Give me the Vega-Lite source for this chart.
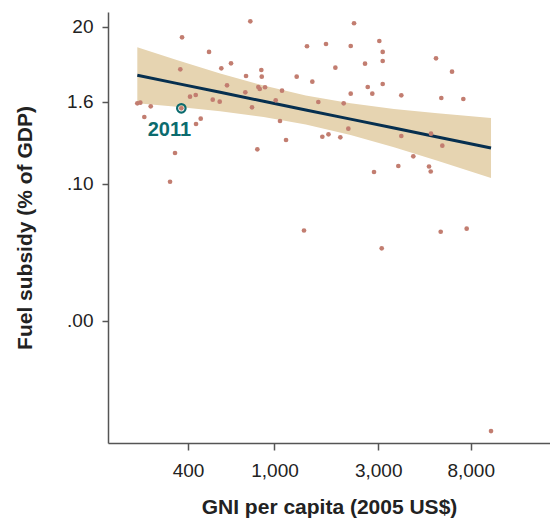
{
  "$schema": "https://vega.github.io/schema/vega-lite/v6.json",
  "width": 442,
  "height": 431,
  "autosize": {"type": "none"},
  "padding": {"left": 108, "top": 12, "right": 0, "bottom": 80},
  "background": "white",
  "config": {"view": {"stroke": null}, "font": "Liberation Sans"},
  "datasets": {
    "points": [
      {"gni": 233.7, "sub": 1.511}, {"gni": 241.3, "sub": 1.543}, {"gni": 269.4, "sub": 1.367},
      {"gni": 251.7, "sub": 0.953}, {"gni": 375.4, "sub": 13.99}, {"gni": 368.6, "sub": 4.756},
      {"gni": 372.6, "sub": 1.277}, {"gni": 408.6, "sub": 1.889}, {"gni": 434, "sub": 2.0},
      {"gni": 435.4, "sub": 0.752}, {"gni": 457.6, "sub": 0.9}, {"gni": 499.7, "sub": 8.53},
      {"gni": 519.7, "sub": 1.707}, {"gni": 559.6, "sub": 1.595}, {"gni": 569.2, "sub": 4.92},
      {"gni": 604.6, "sub": 2.774}, {"gni": 630.8, "sub": 5.82}, {"gni": 773.9, "sub": 23.99},
      {"gni": 739.6, "sub": 3.796}, {"gni": 734.1, "sub": 2.19}, {"gni": 787.9, "sub": 1.321},
      {"gni": 869.8, "sub": 4.646}, {"gni": 873.6, "sub": 3.706}, {"gni": 842.6, "sub": 2.62},
      {"gni": 855.2, "sub": 2.449}, {"gni": 904.7, "sub": 2.594}, {"gni": 1012.8, "sub": 1.673},
      {"gni": 1083, "sub": 2.312}, {"gni": 1060, "sub": 0.832}, {"gni": 1265, "sub": 3.706},
      {"gni": 1411, "sub": 10.33}, {"gni": 1493, "sub": 3.132}, {"gni": 1591, "sub": 1.579},
      {"gni": 1726, "sub": 11.16}, {"gni": 1906, "sub": 5.02}, {"gni": 2082, "sub": 1.511},
      {"gni": 2187, "sub": 0.642}, {"gni": 2243, "sub": 10.43}, {"gni": 2243, "sub": 2.09},
      {"gni": 2323, "sub": 22.43}, {"gni": 2610, "sub": 5.75}, {"gni": 2686, "sub": 2.62},
      {"gni": 2819, "sub": 2.09}, {"gni": 3037, "sub": 12.35}, {"gni": 3148, "sub": 8.53},
      {"gni": 3148, "sub": 6.29}, {"gni": 3148, "sub": 2.898}, {"gni": 3834, "sub": 1.98},
      {"gni": 5537, "sub": 6.89}, {"gni": 6562, "sub": 4.39}, {"gni": 5857, "sub": 1.807},
      {"gni": 7397, "sub": 1.747}, {"gni": 1130, "sub": 0.439}, {"gni": 1660, "sub": 0.49},
      {"gni": 1772, "sub": 0.532}, {"gni": 2009, "sub": 0.48}, {"gni": 3834, "sub": 0.502},
      {"gni": 5252, "sub": 0.543}, {"gni": 5920, "sub": 0.362}, {"gni": 4354, "sub": 0.253},
      {"gni": 3714, "sub": 0.1826}, {"gni": 5142, "sub": 0.1796}, {"gni": 5236, "sub": 0.1517},
      {"gni": 2871, "sub": 0.1492}, {"gni": 1367, "sub": 0.02076}, {"gni": 3115, "sub": 0.01138},
      {"gni": 5820, "sub": 0.01993}, {"gni": 7664, "sub": 0.02207}, {"gni": 9920, "sub": 0.00002407},
      {"gni": 348.5, "sub": 0.283}, {"gni": 330.6, "sub": 0.1075}, {"gni": 833.8, "sub": 0.3206}
    ],
    "band": [
      {"gni": 233.7, "fit": 3.884, "lo": 1.512, "hi": 9.98},
      {"gni": 354.8, "fit": 2.957, "lo": 1.3445, "hi": 6.504},
      {"gni": 562.3, "fit": 2.188, "lo": 1.156, "hi": 4.14},
      {"gni": 891.3, "fit": 1.619, "lo": 0.954, "hi": 2.747},
      {"gni": 1393, "fit": 1.209, "lo": 0.742, "hi": 1.97},
      {"gni": 2239, "fit": 0.8865, "lo": 0.52, "hi": 1.512},
      {"gni": 3548, "fit": 0.656, "lo": 0.3439, "hi": 1.252},
      {"gni": 5623, "fit": 0.4856, "lo": 0.2186, "hi": 1.0784},
      {"gni": 9920, "fit": 0.335, "lo": 0.1216, "hi": 0.9226}
    ],
    "highlight": [
      {"gni": 372.6, "sub": 1.277, "label": "2011"}
    ]
  },
  "encoding": {
    "x": {
      "field": "gni", "type": "quantitative",
      "scale": {"type": "log", "domain": [171.3, 18533], "nice": false, "zero": false},
      "axis": {
        "values": [400, 1000, 3000, 8000], "format": ",d", "grid": false,
        "title": "GNI per capita (2005 US$)",
        "domainColor": "#555555", "domainWidth": 1.5, "tickColor": "#555555", "tickWidth": 1.5, "tickSize": 7,
        "labelFont": "Liberation Sans", "labelFontSize": 19, "labelColor": "#222222", "labelPadding": 11,
        "titleFont": "Liberation Sans", "titleFontSize": 21, "titleFontWeight": "bold", "titleColor": "#222222", "titlePadding": 16
      }
    }
  },
  "layer": [
    {
      "data": {"name": "band"},
      "mark": {"type": "area", "color": "#e6d4b1", "opacity": 1},
      "encoding": {
        "y": {
          "field": "lo", "type": "quantitative",
          "scale": {"type": "log", "domain": [0.0000161, 32.8], "nice": false, "zero": false},
          "axis": {
            "values": [20, 1.6, 0.1, 0.001], "grid": false,
            "labelExpr": "datum.value == 20 ? '20' : datum.value == 1.6 ? '1.6' : datum.value == 0.1 ? '.10' : '.00'",
            "title": "Fuel subsidy (% of GDP)",
            "domainColor": "#555555", "domainWidth": 1.5, "tickColor": "#555555", "tickWidth": 1.5, "tickSize": 6,
            "labelFont": "Liberation Sans", "labelFontSize": 19, "labelColor": "#222222", "labelPadding": 9,
            "titleFont": "Liberation Sans", "titleFontSize": 21, "titleFontWeight": "bold", "titleColor": "#222222",
            "titlePadding": 31
          }
        },
        "y2": {"field": "hi"}
      }
    },
    {
      "data": {"name": "band"},
      "mark": {"type": "line", "color": "#062f4f", "strokeWidth": 3},
      "encoding": {"y": {"field": "fit", "type": "quantitative"}}
    },
    {
      "data": {"name": "points"},
      "mark": {"type": "circle", "color": "#c27d70", "size": 22, "opacity": 1},
      "encoding": {"y": {"field": "sub", "type": "quantitative"}}
    },
    {
      "data": {"name": "highlight"},
      "mark": {"type": "point", "shape": "circle", "filled": false, "color": "#0b6b6e", "size": 72, "strokeWidth": 2.2, "opacity": 1},
      "encoding": {"y": {"field": "sub", "type": "quantitative"}}
    },
    {
      "data": {"name": "highlight"},
      "mark": {"type": "text", "color": "#0b6b6e", "font": "Liberation Sans", "fontSize": 20, "fontWeight": "bold", "align": "center", "baseline": "middle", "dx": -12, "dy": 22},
      "encoding": {"y": {"field": "sub", "type": "quantitative"}, "text": {"field": "label"}}
    }
  ]
}
